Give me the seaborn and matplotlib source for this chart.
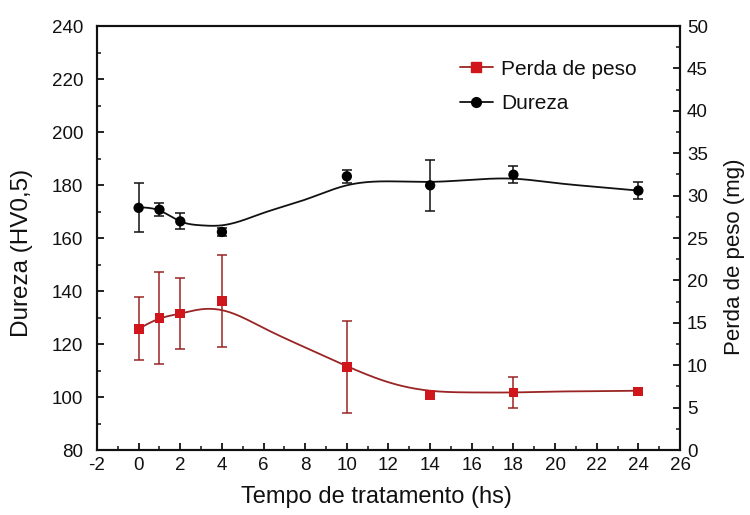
import numpy as np
import pandas as pd
import matplotlib
matplotlib.use("Agg")
import matplotlib.pyplot as plt
from matplotlib.lines import Line2D
from matplotlib.ticker import MultipleLocator
import seaborn as sns

# Measured points
tempo = [0, 1, 2, 4, 10, 14, 18, 24]
dureza = [171.4, 170.7, 166.3, 162.3, 183.3, 179.9, 183.9, 177.9]
dureza_err = [9.2, 2.4, 3.0, 1.5, 2.5, 9.7, 3.1, 3.2]
perda = [14.3, 15.6, 16.1, 17.6, 9.8, 6.5, 6.8, 6.9]
perda_err = [3.7, 5.4, 4.2, 5.4, 5.4, 0.0, 1.8, 0.0]

# Smoothed trend curves (knot values)
fit_x = [0, 1, 2, 3, 4, 6, 8, 10, 12, 14, 16, 18, 20, 22, 24]
dureza_fit = [171.6, 170.4, 166.3, 164.8, 164.8, 169.5, 174.5, 179.9,
              181.4, 181.2, 182.0, 182.4, 180.8, 179.3, 177.9]
perda_fit = [14.3, 15.5, 16.1, 16.6, 16.5, 14.4, 12.1, 9.9,
             8.0, 7.0, 6.8, 6.8, 6.9, 6.95, 7.0]

x_ticks = list(range(-2, 27, 2))


def natural_spline(xk, yk, xs):
    xk = np.asarray(xk, float)
    yk = np.asarray(yk, float)
    n = len(xk)
    h = np.diff(xk)
    A = np.zeros((n, n))
    b = np.zeros(n)
    A[0, 0] = A[-1, -1] = 1.0
    for i in range(1, n - 1):
        A[i, i - 1] = h[i - 1]
        A[i, i] = 2 * (h[i - 1] + h[i])
        A[i, i + 1] = h[i]
        b[i] = 6 * ((yk[i + 1] - yk[i]) / h[i] - (yk[i] - yk[i - 1]) / h[i - 1])
    M = np.linalg.solve(A, b)
    idx = np.clip(np.searchsorted(xk, xs) - 1, 0, n - 2)
    x0, x1 = xk[idx], xk[idx + 1]
    hh = x1 - x0
    t0, t1 = x1 - xs, xs - x0
    return (M[idx] * t0 ** 3 / (6 * hh) + M[idx + 1] * t1 ** 3 / (6 * hh)
            + (yk[idx] / hh - M[idx] * hh / 6) * t0
            + (yk[idx + 1] / hh - M[idx + 1] * hh / 6) * t1)


sns.set_theme(style="ticks")
plt.rcParams["font.family"] = ["Liberation Sans", "DejaVu Sans"]
plt.rcParams["axes.linewidth"] = 1.5
plt.rcParams["axes.unicode_minus"] = False
plt.rcParams["text.color"] = "#111111"
plt.rcParams["axes.labelcolor"] = "#111111"
plt.rcParams["xtick.color"] = "#111111"
plt.rcParams["ytick.color"] = "#111111"

RED = "#d0161a"
DARK_RED = "#9a2424"

fig = plt.figure(figsize=(7.5, 5.15), dpi=100)
ax = fig.add_axes([0.1293, 0.126, 0.7774, 0.8235])
ax2 = ax.twinx()

xs = np.linspace(0, 24, 400)
curves = pd.DataFrame({
    "t": xs,
    "dureza": natural_spline(fit_x, dureza_fit, xs),
    "perda": natural_spline(fit_x, perda_fit, xs),
})

sns.lineplot(data=curves, x="t", y="dureza", ax=ax, color="#111111", lw=1.3)
sns.lineplot(data=curves, x="t", y="perda", ax=ax2, color=DARK_RED, lw=1.3)

ax.errorbar(tempo, dureza, yerr=dureza_err, fmt="none", ecolor="#111111",
            elinewidth=1.1, capsize=3.5, capthick=1.1, zorder=3)
ax2.errorbar(tempo, perda, yerr=perda_err, fmt="none", ecolor=DARK_RED,
             elinewidth=1.1, capsize=3.5, capthick=1.1, zorder=3)

pts = pd.DataFrame({"t": tempo, "dureza": dureza, "perda": perda})
sns.scatterplot(data=pts, x="t", y="dureza", ax=ax, color="#000000",
                marker="o", s=55, edgecolor="none", zorder=4)
sns.scatterplot(data=pts, x="t", y="perda", ax=ax2, color=RED,
                marker="s", s=50, edgecolor="none", zorder=4)

ax.set_xlim(-2, 26)
ax.set_ylim(80, 240)
ax2.set_ylim(0, 50)
ax.set_xticks(x_ticks)
ax.xaxis.set_minor_locator(MultipleLocator(1))
ax.yaxis.set_major_locator(MultipleLocator(20))
ax.yaxis.set_minor_locator(MultipleLocator(10))
ax2.yaxis.set_major_locator(MultipleLocator(5))
ax2.yaxis.set_minor_locator(MultipleLocator(2.5))

for a in (ax, ax2):
    a.tick_params(which="major", direction="in", length=5, width=1.3,
                  labelsize=13.5, pad=5)
    a.tick_params(which="minor", direction="in", length=3, width=1.1)
    for s in a.spines.values():
        s.set_visible(True)
        s.set_linewidth(1.5)
        s.set_color("#111111")
ax.tick_params(top=False, which="both")
ax.tick_params(axis="y", which="major", pad=10)

ax.set_xlabel("Tempo de tratamento (hs)", fontsize=17)
ax.set_ylabel("Dureza (HV0,5)", fontsize=17.5)
ax2.set_ylabel("Perda de peso (mg)", fontsize=16)
ax.xaxis.set_label_coords(0.48, -0.085)
ax.yaxis.set_label_coords(-0.11, 0.465)
ax2.yaxis.set_label_coords(1.075, 0.455)

handles = [
    Line2D([], [], color=DARK_RED, lw=1.3, marker="s", markersize=7,
           markerfacecolor=RED, markeredgecolor=RED),
    Line2D([], [], color="#111111", lw=1.3, marker="o", markersize=7,
           markerfacecolor="#000000", markeredgecolor="#000000"),
]
ax2.legend(handles, ["Perda de peso", "Dureza"], loc="upper left",
           bbox_to_anchor=(0.59, 0.965), frameon=False, fontsize=15,
           handlelength=1.6, handletextpad=0.4, labelspacing=0.75)

fig.savefig("out.png", dpi=100)
